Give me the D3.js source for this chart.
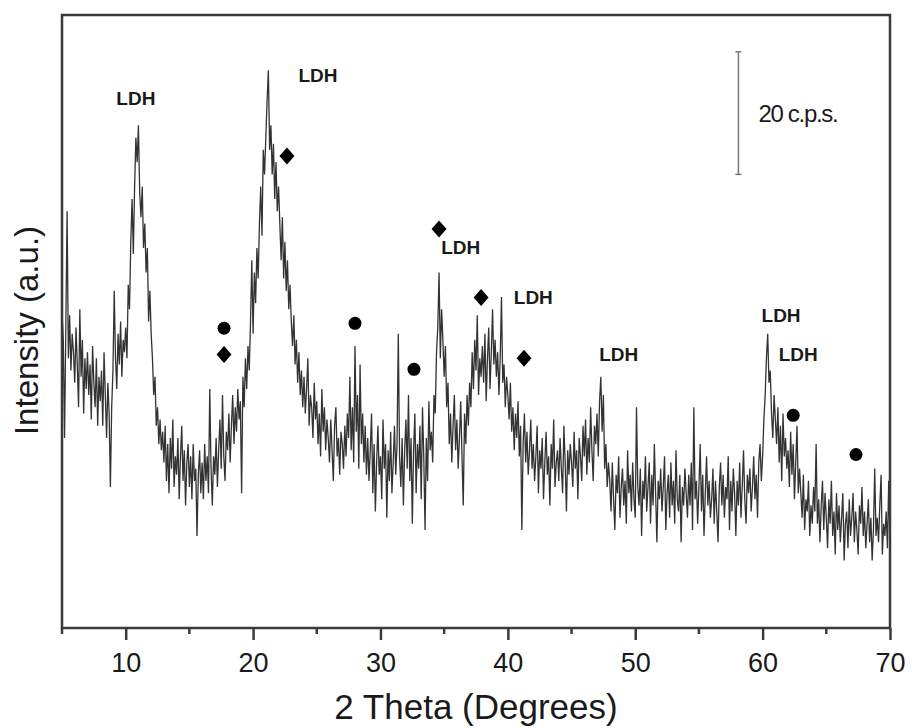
<!DOCTYPE html>
<html>
<head>
<meta charset="utf-8">
<script src="https://cdn.jsdelivr.net/npm/d3@7"></script>
<style>
  body { margin: 0; background: #fff; }
  svg { display: block; }
  text { font-family: "Liberation Sans", Arial, sans-serif; fill: #1a1a1a; }
</style>
</head>
<body>
<div id="chart"></div>
<script>
// XRD scan, 2 theta from 5 to 70 deg, 0.1 deg step (one row per degree)
const thetaStart = 5;
const thetaStep = 0.1;
const intensity = [
  52, 47, 31, 49, 68, 44, 51, 42, 48, 45,   // 5
  40, 49, 43, 36, 52, 41, 47, 35, 44, 39,   // 6
  45, 38, 43, 34, 46, 40, 36, 44, 33, 41,   // 7
  37, 42, 33, 45, 38, 31, 40, 35, 23, 36,   // 8
  42, 55, 44, 39, 48, 43, 50, 41, 47, 45,   // 9
  49, 44, 56, 52, 63, 70, 61, 72, 80, 76,   // 10
  82, 71, 67, 72, 62, 66, 58, 62, 50, 55,   // 11
  48, 44, 38, 41, 33, 36, 30, 34, 29, 32,   // 12
  27, 33, 24, 30, 22, 31, 26, 34, 23, 28,   // 13
  25, 31, 21, 28, 33, 24, 29, 20, 27, 30,   // 14
  23, 28, 21, 30, 24, 26, 15, 25, 29, 22,   // 15
  27, 21, 30, 24, 28, 22, 39, 26, 20, 28,   // 16
  25, 31, 23, 29, 34, 26, 38, 28, 24, 32,   // 17
  29, 35, 27, 33, 38, 30, 36, 32, 39, 34,   // 18
  37, 22, 41, 36, 44, 39, 46, 42, 50, 60,   // 19
  48, 58, 53, 62, 57, 66, 72, 64, 78, 74,   // 20
  80, 86, 91, 78, 82, 74, 79, 70, 76, 68,   // 21
  72, 66, 60, 67, 57, 63, 55, 60, 52, 56,   // 22
  50, 46, 51, 43, 47, 40, 45, 38, 42, 36,   // 23
  41, 35, 39, 44, 33, 38, 36, 31, 40, 34,   // 24
  37, 30, 35, 28, 39, 32, 36, 29, 34, 31,   // 25
  27, 34, 29, 24, 33, 36, 28, 31, 25, 32,   // 26
  30, 26, 33, 28, 35, 31, 41, 29, 36, 27,   // 27
  46, 32, 38, 26, 43, 30, 35, 27, 33, 25,   // 28
  31, 24, 29, 35, 22, 30, 19, 27, 33, 25,   // 29
  28, 21, 34, 26, 30, 18, 29, 24, 32, 22,   // 30
  27, 33, 25, 30, 48, 28, 23, 31, 20, 29,   // 31
  34, 26, 38, 24, 31, 17, 29, 35, 22, 30,   // 32
  26, 33, 21, 36, 28, 16, 31, 24, 37, 29,   // 33
  32, 27, 38, 35, 45, 49, 58, 44, 52, 47,   // 34
  41, 46, 36, 40, 30, 35, 27, 33, 38, 29,   // 35
  34, 26, 31, 37, 28, 20, 35, 30, 38, 33,   // 36
  40, 36, 45, 39, 47, 42, 51, 38, 44, 41,   // 37
  46, 40, 48, 37, 44, 49, 39, 45, 52, 43,   // 38
  47, 41, 45, 38, 44, 54, 40, 43, 36, 41,   // 39
  38, 34, 40, 32, 36, 29, 35, 31, 37, 28,   // 40
  33, 16, 30, 35, 27, 32, 25, 29, 34, 26,   // 41
  30, 24, 28, 33, 22, 29, 26, 31, 21, 27,   // 42
  32, 25, 28, 20, 30, 26, 34, 23, 27, 29,   // 43
  24, 31, 26, 22, 33, 27, 19, 29, 25, 30,   // 44
  27, 23, 32, 26, 29, 21, 31, 28, 24, 33,   // 45
  28, 34, 25, 31, 27, 36, 29, 24, 33, 30,   // 46
  35, 28, 37, 41, 32, 38, 26, 30, 23, 27,   // 47
  24, 19, 27, 21, 16, 25, 22, 28, 18, 23,   // 48
  26, 20, 24, 17, 29, 22, 25, 19, 27, 21,   // 49
  18, 36, 23, 20, 26, 15, 24, 21, 28, 19,   // 50
  23, 27, 17, 25, 20, 30, 22, 14, 24, 21,   // 51
  26, 19, 23, 28, 16, 22, 25, 18, 27, 20,   // 52
  24, 17, 29, 21, 19, 25, 14, 23, 20, 26,   // 53
  22, 18, 25, 20, 27, 16, 36, 21, 24, 17,   // 54
  23, 30, 19, 25, 15, 22, 28, 20, 24, 18,   // 55
  21, 26, 17, 24, 19, 14, 23, 27, 20, 25,   // 56
  18, 23, 21, 28, 16, 24, 19, 26, 22, 15,   // 57
  24, 20, 27, 18, 23, 29, 21, 17, 25, 22,   // 58
  26, 19, 23, 28, 21, 25, 18, 27, 30, 24,   // 59
  28, 34, 38, 44, 48, 40, 42, 35, 31, 38,   // 60
  34, 30, 36, 27, 33, 24, 35, 28, 31, 26,   // 61
  29, 23, 32, 25, 30, 21, 27, 33, 22, 26,   // 62
  22, 18, 25, 16, 21, 19, 24, 15, 20, 17,   // 63
  23, 19, 30, 17, 21, 14, 20, 24, 16, 22,   // 64
  18, 13, 21, 17, 24, 15, 19, 12, 22, 16,   // 65
  20, 14, 18, 22, 11, 17, 19, 13, 21, 15,   // 66
  18, 22, 14, 19, 16, 12, 20, 17, 23, 15,   // 67
  19, 13, 17, 21, 14, 18, 11, 16, 26, 15,   // 68
  18, 14, 20, 25, 12, 17, 15, 19, 13, 24,   // 69
  14                                        // 70
];

const xTicks = [10, 20, 30, 40, 50, 60, 70];
const xMinorTicks = [5, 15, 25, 35, 45, 55, 65];

// phase markers: diamonds and circles (2 theta, intensity)
const diamondTheta = [22.66, 17.72, 34.6, 37.9, 41.27];
const diamondY     = [77.0, 44.6, 65.1, 53.9, 44.0];
const circleTheta  = [17.72, 28.0, 32.63, 62.4, 67.33];
const circleY      = [48.9, 49.7, 42.2, 34.7, 28.3];

// "LDH" reflection labels
const ldhTheta = [10.8, 25.1, 36.3, 42.0, 48.7, 61.45, 62.8];
const ldhY     = [86.4, 90.2, 62.2, 54.0, 44.6, 51.0, 44.6];

// 20 c.p.s. scale bar
const barTheta = 58.1;
const barFrom = 74;
const barTo = 94;
const barLabel = "20 c.p.s.";

const data = intensity.map((v, i) => ({ x: thetaStart + i * thetaStep, y: v }));

const width = 912, height = 728;
const margin = { top: 15, right: 22, bottom: 100, left: 62 };
const innerW = width - margin.left - margin.right;
const innerH = height - margin.top - margin.bottom;

const svg = d3.select("#chart").append("svg")
    .attr("width", width)
    .attr("height", height);

const g = svg.append("g")
    .attr("transform", `translate(${margin.left},${margin.top})`);

const x = d3.scaleLinear().domain([5, 70]).range([0, innerW]);
const y = d3.scaleLinear().domain([0, 100]).range([innerH, 0]);

// trace
const line = d3.line()
    .x(d => x(d.x))
    .y(d => y(d.y));

g.append("path")
    .datum(data)
    .attr("fill", "none")
    .attr("stroke", "#333")
    .attr("stroke-width", 1.3)
    .attr("stroke-linejoin", "miter")
    .attr("d", line);

// frame
g.append("rect")
    .attr("width", innerW)
    .attr("height", innerH)
    .attr("fill", "none")
    .attr("stroke", "#3a3a3a")
    .attr("stroke-width", 2.5);

// bottom axis, major + minor ticks
const xAxis = g.append("g")
    .attr("transform", `translate(0,${innerH})`)
    .call(d3.axisBottom(x).tickValues(xTicks).tickSize(12).tickPadding(13).tickFormat(d3.format("d")));
xAxis.select(".domain").remove();
xAxis.selectAll(".tick line").attr("stroke", "#3a3a3a").attr("stroke-width", 2.5);
xAxis.selectAll(".tick text")
    .style("font-size", "27px")
    .style("font-family", "'Liberation Sans', Arial, sans-serif")
    .attr("fill", "#1a1a1a");

g.append("g")
    .attr("transform", `translate(0,${innerH})`)
    .selectAll("line")
    .data(xMinorTicks)
    .enter().append("line")
    .attr("x1", d => x(d)).attr("x2", d => x(d))
    .attr("y1", 0).attr("y2", 6)
    .attr("stroke", "#3a3a3a")
    .attr("stroke-width", 2.5);

// axis titles
svg.append("text")
    .attr("x", margin.left + x(37.5))
    .attr("y", 719)
    .attr("text-anchor", "middle")
    .style("font-size", "35px")
    .text("2 Theta (Degrees)");

svg.append("text")
    .attr("transform", `translate(38,${margin.top + innerH / 2 + 9}) rotate(-90)`)
    .attr("text-anchor", "middle")
    .style("font-size", "33px")
    .text("Intensity (a.u.)");

// markers
g.selectAll("path.diamond")
    .data(diamondTheta)
    .enter().append("path")
    .attr("class", "diamond")
    .attr("d", "M0,-8.5L7.5,0L0,8.5L-7.5,0Z")
    .attr("transform", (d, i) => `translate(${x(d)},${y(diamondY[i])})`)
    .attr("fill", "#000");

g.selectAll("circle.dot")
    .data(circleTheta)
    .enter().append("circle")
    .attr("class", "dot")
    .attr("cx", d => x(d))
    .attr("cy", (d, i) => y(circleY[i]))
    .attr("r", 6.5)
    .attr("fill", "#000");

g.selectAll("text.ldh")
    .data(ldhTheta)
    .enter().append("text")
    .attr("class", "ldh")
    .attr("x", d => x(d))
    .attr("y", (d, i) => y(ldhY[i]))
    .attr("dy", "0.36em")
    .attr("text-anchor", "middle")
    .style("font-size", "19px")
    .style("font-weight", "bold")
    .text("LDH");

// scale bar
const bar = g.append("g").attr("stroke", "#777").attr("stroke-width", 1.5);
bar.append("line")
    .attr("x1", x(barTheta)).attr("x2", x(barTheta))
    .attr("y1", y(barFrom)).attr("y2", y(barTo));
bar.selectAll("line.cap")
    .data([barFrom, barTo])
    .enter().append("line")
    .attr("class", "cap")
    .attr("x1", x(barTheta) - 3).attr("x2", x(barTheta) + 3)
    .attr("y1", d => y(d)).attr("y2", d => y(d));

g.append("text")
    .attr("x", x(barTheta) + 20)
    .attr("y", y((barFrom + barTo) / 2))
    .attr("dy", "0.36em")
    .style("font-size", "24px")
    .style("letter-spacing", "-1.3px")
    .text(barLabel);
</script>
</body>
</html>
